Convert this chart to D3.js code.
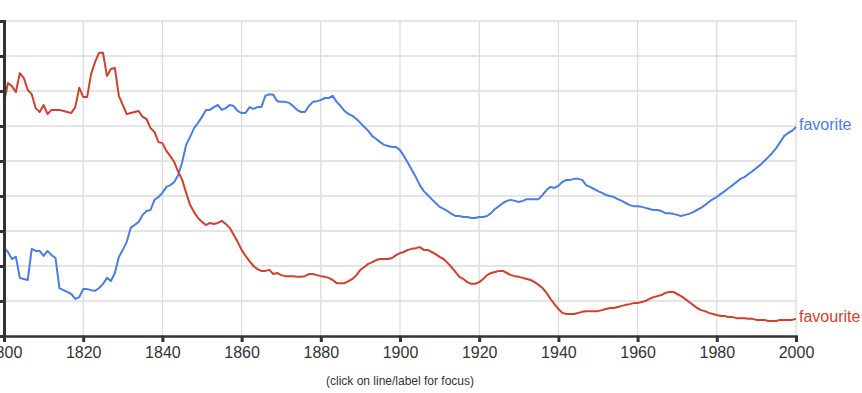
<!DOCTYPE html>
<html><head><meta charset="utf-8">
<script src="https://cdn.jsdelivr.net/npm/d3@7"></script>
<style>
html,body{margin:0;padding:0;background:#fff;overflow:hidden;}
svg{display:block;font-family:Arial,"Liberation Sans",sans-serif;}
</style></head>
<body>
<script>
// Years 1800..2000
const years = d3.range(1800, 2001);
// relative frequency (arbitrary units, one gridline = 1)
const favorite = [
2.51,2.40,2.20,2.26,1.66,1.63,1.60,2.49,2.43,2.43,
2.29,2.43,2.31,2.23,1.37,1.31,1.26,1.20,1.06,1.11,
1.34,1.34,1.31,1.29,1.37,1.49,1.66,1.57,1.80,2.26,
2.46,2.69,3.09,3.17,3.26,3.46,3.57,3.60,3.89,3.97,
4.09,4.26,4.31,4.40,4.60,4.97,5.46,5.69,5.94,6.09,
6.26,6.46,6.46,6.54,6.60,6.46,6.51,6.60,6.57,6.43,
6.37,6.37,6.54,6.49,6.54,6.54,6.86,6.91,6.89,6.71,
6.69,6.69,6.66,6.57,6.46,6.40,6.40,6.57,6.69,6.71,
6.74,6.80,6.80,6.86,6.69,6.57,6.43,6.34,6.29,6.20,
6.09,5.97,5.86,5.71,5.63,5.54,5.46,5.43,5.40,5.40,
5.31,5.14,4.94,4.74,4.54,4.31,4.14,4.03,3.91,3.80,
3.69,3.63,3.57,3.49,3.43,3.43,3.40,3.40,3.37,3.37,
3.40,3.40,3.43,3.51,3.63,3.71,3.80,3.86,3.89,3.86,
3.83,3.86,3.91,3.91,3.91,3.91,4.03,4.17,4.26,4.23,
4.29,4.40,4.46,4.46,4.49,4.49,4.46,4.31,4.26,4.20,
4.14,4.09,4.03,4.00,3.97,3.91,3.86,3.80,3.74,3.71,
3.71,3.69,3.66,3.63,3.60,3.60,3.57,3.51,3.51,3.49,
3.46,3.43,3.46,3.49,3.54,3.60,3.66,3.74,3.83,3.91,
3.97,4.06,4.14,4.23,4.31,4.40,4.49,4.54,4.63,4.71,
4.80,4.89,5.00,5.11,5.23,5.37,5.54,5.71,5.80,5.86,
5.97];
const favourite = [
6.66,7.23,7.14,6.97,7.51,7.37,7.03,6.91,6.51,6.40,
6.60,6.34,6.46,6.46,6.46,6.43,6.40,6.37,6.54,7.09,
6.83,6.83,7.49,7.83,8.09,8.09,7.43,7.63,7.66,6.86,
6.60,6.34,6.37,6.40,6.43,6.26,6.20,5.94,5.83,5.54,
5.51,5.29,5.14,4.97,4.69,4.46,4.09,3.74,3.54,3.37,
3.26,3.17,3.23,3.20,3.23,3.29,3.20,3.09,2.89,2.69,
2.46,2.29,2.14,2.00,1.91,1.86,1.86,1.89,1.77,1.80,
1.74,1.71,1.71,1.71,1.69,1.69,1.71,1.77,1.77,1.74,
1.71,1.69,1.66,1.60,1.51,1.51,1.51,1.57,1.63,1.74,
1.89,1.97,2.06,2.11,2.17,2.20,2.20,2.20,2.23,2.31,
2.37,2.40,2.46,2.49,2.51,2.54,2.46,2.46,2.40,2.34,
2.26,2.20,2.09,1.97,1.83,1.69,1.63,1.54,1.49,1.49,
1.54,1.63,1.74,1.80,1.83,1.86,1.86,1.80,1.74,1.71,
1.69,1.66,1.63,1.60,1.54,1.46,1.37,1.23,1.06,0.91,
0.77,0.66,0.63,0.63,0.63,0.66,0.69,0.71,0.71,0.71,
0.71,0.74,0.77,0.80,0.80,0.83,0.86,0.89,0.91,0.94,
0.94,0.97,1.00,1.06,1.11,1.14,1.17,1.23,1.26,1.26,
1.20,1.14,1.06,0.97,0.89,0.80,0.74,0.71,0.66,0.63,
0.60,0.57,0.57,0.54,0.54,0.51,0.51,0.51,0.49,0.49,
0.46,0.46,0.46,0.43,0.43,0.43,0.46,0.46,0.46,0.46,
0.49];
const seriesNames = ["favorite", "favourite"];
const seriesColors = ["#4a7de9", "#d43f2c"];
const xTicks = [1800,1820,1840,1860,1880,1900,1920,1940,1960,1980,2000];
const yTicks = d3.range(0, 10);
const caption = "(click on line/label for focus)";

const W = 862, H = 393;
const svg = d3.select("body").append("svg").attr("width", W).attr("height", H);
const x = d3.scaleLinear().domain([1800, 2000]).range([4, 796]);
const y = d3.scaleLinear().domain([0, 9]).range([336, 21]);

// grid
const grid = svg.append("g");
grid.selectAll(".hg").data(yTicks.filter(d => d > 0)).enter().append("line")
  .attr("x1", x(1800)).attr("x2", x(2000))
  .attr("y1", d => y(d)).attr("y2", d => y(d))
  .attr("stroke", "#dcdcdc").attr("stroke-width", 1.3);
grid.selectAll(".vg").data(xTicks.filter(d => d > 1800)).enter().append("line")
  .attr("x1", d => x(d)).attr("x2", d => x(d))
  .attr("y1", y(9)).attr("y2", y(0))
  .attr("stroke", "#dcdcdc").attr("stroke-width", 1.3);

// series
const series = [favorite, favourite];
const line = d3.line().x((d, i) => x(years[i])).y(d => y(d));
series.forEach((s, k) => {
  svg.append("path").datum(s).attr("d", line)
    .attr("fill", "none").attr("stroke", seriesColors[k])
    .attr("stroke-width", 2).attr("stroke-linejoin", "round");
  svg.append("text").attr("x", x(2000) + 3).attr("y", y(s[s.length - 1]) + 3)
    .attr("fill", seriesColors[k]).attr("font-size", "16px")
    .text(seriesNames[k]);
});

// x axis
const xAxis = d3.axisBottom(x).tickValues(xTicks).tickFormat(d3.format("d")).tickSize(6).tickPadding(5);
const gx = svg.append("g").attr("transform", `translate(0,${y(0)})`).call(xAxis);
gx.select(".domain").attr("stroke", "#333").attr("stroke-width", 2.5);
gx.selectAll(".tick line").attr("stroke", "#333").attr("stroke-width", 3);
gx.selectAll(".tick text").attr("fill", "#333").attr("font-size", "16px")
  .attr("font-family", "Arial,'Liberation Sans',sans-serif");

// y axis
const yAxis = d3.axisLeft(y).tickValues(yTicks).tickFormat("").tickSize(6);
const gy = svg.append("g").attr("transform", `translate(${x(1800)},0)`).call(yAxis);
gy.select(".domain").attr("stroke", "#333").attr("stroke-width", 3);
gy.selectAll(".tick line").attr("stroke", "#333").attr("stroke-width", 3);

svg.append("text").attr("x", 400).attr("y", 385).attr("text-anchor", "middle")
  .attr("font-size", "12px").attr("fill", "#333").text(caption);
</script>
</body></html>
